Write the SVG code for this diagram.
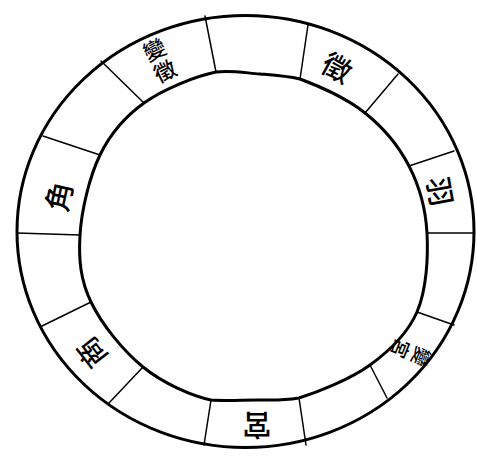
<svg xmlns="http://www.w3.org/2000/svg" width="477" height="456" viewBox="0 0 477 456">
<style>
.ring{fill:none;stroke:#000;stroke-width:3}
.div{stroke:#000;stroke-width:1.5;fill:none;stroke-linecap:round}
.lb{font-family:"Noto Sans CJK TC","Noto Sans CJK SC",serif;fill:#000;text-anchor:middle;dominant-baseline:central;font-weight:500}
.s1{font-size:29px}
.s2{font-size:22px}
.s3{font-size:19px}
</style>
<rect width="477" height="456" fill="#fff"/>
<g id="ring">
<ellipse class="ring" cx="245.5" cy="231.5" rx="228.5" ry="216"/>
<path class="ring" d="M216,72 C231,70 246,73 260,74 C274,75.2 286,76 300,79 C317.5,85.5 346.8,98.5 365,113 C383.2,127.5 398.7,146 409,166 C419.3,186 425.7,208.7 427,233 C428.3,257.3 426.5,290 417,312 C407.5,334 389.7,350.7 370,365 C350.3,379.3 317.8,392.2 299,398 C280.2,401 271.7,400 257,400 C242.3,400 226,401 211,400 C192,396 163,383.3 143,367 C123,350.7 101.5,324 91,302 C80.5,280 78.5,259.5 80,235 C81.5,210.5 89.3,177 100,155 C110.7,133 124.7,116.8 144,103 C163.3,89.2 196,76 216,72 Z"/>
</g>
<g id="dividers">
<line class="div" x1="205" y1="16" x2="216" y2="72"/>
<line class="div" x1="308" y1="25" x2="300" y2="79"/>
<line class="div" x1="398" y1="74" x2="365" y2="113"/>
<line class="div" x1="454" y1="151" x2="409" y2="166"/>
<line class="div" x1="474" y1="233" x2="427" y2="233"/>
<line class="div" x1="454" y1="325" x2="417" y2="312"/>
<line class="div" x1="387" y1="398" x2="370" y2="365"/>
<line class="div" x1="306" y1="445" x2="299" y2="398"/>
<line class="div" x1="204" y1="445" x2="211" y2="400"/>
<line class="div" x1="109" y1="403" x2="143" y2="367"/>
<line class="div" x1="42" y1="326" x2="91" y2="302"/>
<line class="div" x1="17" y1="233" x2="80" y2="235"/>
<line class="div" x1="43" y1="136" x2="100" y2="155"/>
<line class="div" x1="101" y1="61" x2="144" y2="103"/>
</g>
<g id="bianzhi" transform="translate(159,59) rotate(-26)">
<text class="lb s2" x="0" y="-12">變</text>
<text class="lb s2" x="0" y="12">徵</text>
</g>
<g id="zhi" transform="translate(338,66) rotate(29)">
<text class="lb s1" x="0" y="0">徵</text>
</g>
<g id="yu" transform="translate(442,191) rotate(80)">
<text class="lb s1" x="0" y="0">羽</text>
</g>
<g id="biangong" transform="translate(412,353) rotate(112)">
<text class="lb s3" x="0" y="-11">變</text>
<text class="lb s3" x="0" y="11">宮</text>
</g>
<g id="gong" transform="translate(257,427) rotate(180)">
<text class="lb s1" x="0" y="0">宮</text>
</g>
<g id="shang" transform="translate(90,354) rotate(-128)">
<text class="lb s1" x="0" y="0">商</text>
</g>
<g id="jue" transform="translate(57,196) rotate(-78)">
<text class="lb s1" x="0" y="0">角</text>
</g>
</svg>
